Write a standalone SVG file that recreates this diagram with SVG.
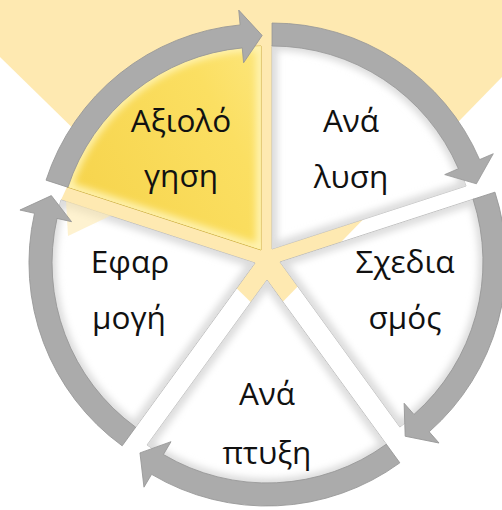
<svg xmlns="http://www.w3.org/2000/svg" width="502" height="510" viewBox="0 0 502 510">
  <defs>
    <style>
      .lbl { font-family: "Open Sans", "Noto Sans", "DejaVu Sans", sans-serif; font-size: 31.5px; fill: #111; text-anchor: middle; }
      .wedge { fill: #ffffff; stroke: #b4b4b4; stroke-width: 0.8; }
      .bevel { fill: none; stroke: #dcdcdc; stroke-width: 11; filter: url(#soft); }
      .ybevel { fill: none; stroke: #fff3b0; stroke-width: 10; filter: url(#soft); }
      .arrow { fill: #ababab; stroke: #979797; stroke-width: 0.8; }
    </style>
    <filter id="soft" x="-20%" y="-20%" width="140%" height="140%">
      <feGaussianBlur stdDeviation="3.5"/>
    </filter>
    <linearGradient id="ygrad" x1="0" y1="0" x2="1" y2="1">
      <stop offset="0" stop-color="#f6d44c"/>
      <stop offset="0.6" stop-color="#fbdf62"/>
      <stop offset="1" stop-color="#fdea8c"/>
    </linearGradient>
    <path id="wedgeShape" d="M0,0 L0,-204 A204,204 0 0 1 194,-63 Z"/>
    <clipPath id="wclip">
      <use href="#wedgeShape"/>
    </clipPath>
    <path id="arrowShape" d="M0,-226 A226,226 0 0 1 207.6,-89.4 L221.3,-95.3 L204.4,-65.2 L172.7,-74.4 L186.4,-80.3 A203,203 0 0 0 0,-203 Z"/>
  </defs>

  <rect x="0" y="0" width="502" height="510" fill="#ffffff"/>
  <!-- background light beam -->
  <polygon points="0,0 502,0 502,77 267,318 0,57" fill="#fee9b1"/>
  <polygon points="261,250 67,187 61,200 255,263" fill="#fee9b1"/>

  <!-- Ανάλυση -->
  <g id="analysis" transform="translate(272,249)">
    <use href="#wedgeShape" class="wedge"/>
    <g clip-path="url(#wclip)"><use href="#wedgeShape" class="bevel"/></g>
  </g>
  <!-- Σχεδιασμός -->
  <g id="design" transform="translate(280,262) rotate(72)">
    <use href="#wedgeShape" class="wedge"/>
    <g clip-path="url(#wclip)"><use href="#wedgeShape" class="bevel"/></g>
  </g>
  <!-- Ανάπτυξη -->
  <g id="development" transform="translate(267,280) rotate(144)">
    <use href="#wedgeShape" class="wedge"/>
    <g clip-path="url(#wclip)"><use href="#wedgeShape" class="bevel"/></g>
  </g>
  <!-- Εφαρμογή -->
  <g id="implementation" transform="translate(255,263) rotate(216)">
    <use href="#wedgeShape" class="wedge"/>
    <g clip-path="url(#wclip)"><use href="#wedgeShape" class="bevel"/></g>
  </g>
  <polygon points="66,201 112,215 68,236" fill="#fee9b1" opacity="0.6"/>
  <!-- Αξιολόγηση -->
  <g id="evaluation" transform="translate(261,250) rotate(-72)">
    <use href="#wedgeShape" fill="url(#ygrad)" stroke="#c9a93a" stroke-width="0.8"/>
    <g clip-path="url(#wclip)"><use href="#wedgeShape" class="ybevel"/></g>
  </g>

  <!-- cycle arrows -->
  <g id="connectors">
    <use href="#arrowShape" class="arrow" transform="translate(272,249)"/>
    <use href="#arrowShape" class="arrow" transform="translate(280,262) rotate(72)"/>
    <use href="#arrowShape" class="arrow" transform="translate(267,280) rotate(144)"/>
    <use href="#arrowShape" class="arrow" transform="translate(255,263) rotate(216)"/>
    <use href="#arrowShape" class="arrow" transform="translate(261,250) rotate(-72)"/>
  </g>

  <!-- labels -->
  <g id="labels">
    <text class="lbl" x="181" y="132">Αξιολό</text>
    <text class="lbl" x="181" y="187">γηση</text>
    <text class="lbl" x="351" y="132">Ανά</text>
    <text class="lbl" x="351" y="188">λυση</text>
    <text class="lbl" x="405" y="273">Σχεδια</text>
    <text class="lbl" x="405" y="329">σμός</text>
    <text class="lbl" x="267" y="405">Ανά</text>
    <text class="lbl" x="267" y="464">πτυξη</text>
    <text class="lbl" x="130" y="273">Εφαρ</text>
    <text class="lbl" x="129" y="329">μογή</text>
  </g>
</svg>
